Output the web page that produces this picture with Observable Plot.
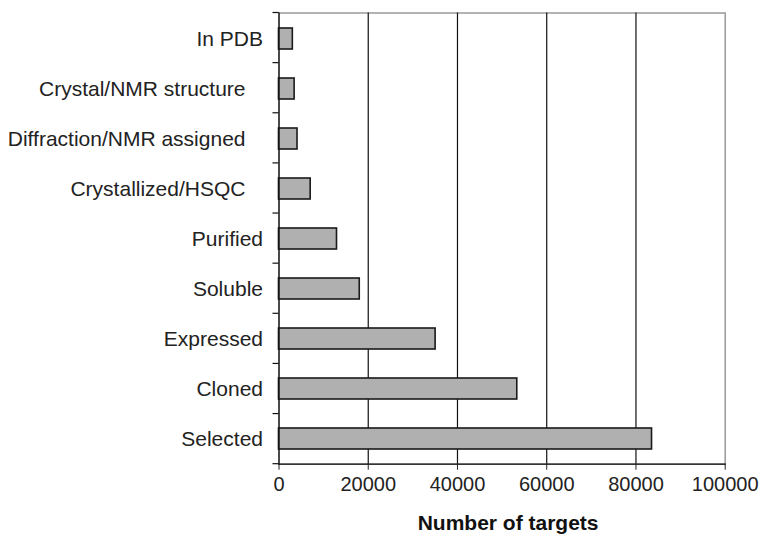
<!DOCTYPE html>
<html>
<head>
<meta charset="utf-8">
<script src="https://cdn.jsdelivr.net/npm/d3@7"></script>
<script src="https://cdn.jsdelivr.net/npm/@observablehq/plot@0.6"></script>
<style>
  html, body { margin: 0; padding: 0; background: #fff; }
  svg { font-family: "Liberation Sans", Arial, sans-serif; }
</style>
</head>
<body>
<div id="chart"></div>
<script>
const categories = ["In PDB", "Crystal/NMR structure", "Diffraction/NMR assigned", "Crystallized/HSQC", "Purified", "Soluble", "Expressed", "Cloned", "Selected"];
const targets = [3100, 3500, 4150, 7100, 13000, 18100, 35100, 53400, 83600];
const xTicks = [0, 20000, 40000, 60000, 80000, 100000];
const gridValues = [20000, 40000, 60000, 80000];
const indented = ["Crystal/NMR structure", "Diffraction/NMR assigned", "Crystallized/HSQC"];
const xLabel = "Number of targets";

const data = categories.map((c, i) => ({category: c, value: targets[i]}));

const bandTicks = (index, scales, values, dims) => {
  const g = d3.create("svg:g");
  const top = dims.marginTop, bottom = dims.height - dims.marginBottom;
  const step = (bottom - top) / categories.length;
  const x0 = scales.x(0);
  for (let k = 0; k <= categories.length; k++) {
    const yy = top + k * step;
    g.append("line").attr("x1", x0 - 6).attr("x2", x0).attr("y1", yy).attr("y2", yy)
      .attr("stroke", "#111").attr("stroke-width", 1.2);
  }
  return g.node();
};

const chart = Plot.plot({
  width: 760,
  height: 535,
  marginLeft: 278.5,
  marginRight: 35.3,
  marginTop: 12.5,
  marginBottom: 71.3,
  style: {fontFamily: "'Liberation Sans', Arial, sans-serif", fontSize: "21px", color: "#222", background: "#fff"},
  x: {domain: [0, 100000]},
  y: {domain: categories, paddingInner: 0.58, paddingOuter: 0.29},
  marks: [
    Plot.frame({stroke: "#9a9a9a", strokeWidth: 1.5}),
    Plot.ruleX(gridValues, {stroke: "#111", strokeWidth: 1.2}),
    Plot.barX(data, {y: "category", x: "value", fill: "#b0b0b0", stroke: "#1a1a1a", strokeWidth: 1.6}),
    Plot.frame({anchor: "left", stroke: "#111", strokeWidth: 1.3}),
    Plot.frame({anchor: "bottom", stroke: "#111", strokeWidth: 1.3}),
    bandTicks,
    Plot.axisY({tickSize: 0, tickPadding: 16, label: null, fontSize: 21,
      tickFormat: d => indented.includes(d) ? d + "\u00a0\u00a0\u00a0" : d}),
    Plot.axisX({ticks: xTicks, tickSize: 6, tickPadding: 7, fontSize: 20, tickFormat: d => String(d),
      label: null}),
    Plot.text([xLabel], {frameAnchor: "bottom", dy: 66, dx: 6, text: d => d, fontSize: 21, fontWeight: "bold", fill: "#111", letterSpacing: "0.6px"})
  ]
});
document.getElementById("chart").appendChild(chart);
</script>
</body>
</html>
